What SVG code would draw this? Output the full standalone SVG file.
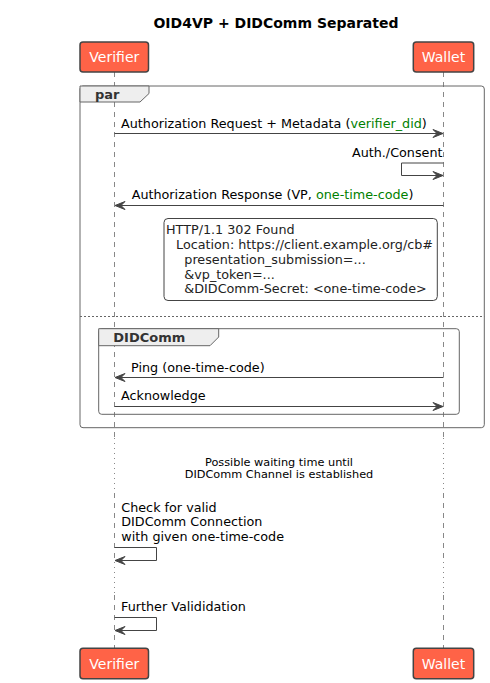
<svg xmlns="http://www.w3.org/2000/svg" width="490" height="683" viewBox="0 0 490 683">
<style>
text{font-family:"DejaVu Sans","Liberation Sans",sans-serif;}
.title{font-size:14px;font-weight:bold;fill:#000;text-anchor:middle;}
.part rect{fill:#FF6347;stroke:#444;stroke-width:1.5;}
.part text{font-size:14px;fill:#fff;text-anchor:middle;}
.msg{font-size:12.75px;fill:#000;}
.grn{fill:#008000;}
.life{stroke:#888;stroke-width:1;fill:none;}
.dash{stroke-dasharray:5,5;}
.dot{stroke-dasharray:1,4;}
.line{stroke:#444;stroke-width:1;fill:none;}
.head{fill:#444;stroke:#444;stroke-width:1;}
.frame{fill:none;stroke:#666;stroke-width:1;}
.tab{fill:#EEEEEE;stroke:#666;stroke-width:1;}
.glabel{font-size:13px;font-weight:bold;fill:#333;}
.note{fill:#fff;stroke:#444;stroke-width:1;}
.ntext{font-size:12.75px;fill:#222;}
.delay{font-size:11.3px;fill:#000;text-anchor:middle;}
</style>
<rect width="490" height="683" fill="#fff"/>
<text class="title" x="276" y="28">OID4VP + DIDComm Separated</text>

<g id="lifelines">
<path class="life dash" d="M114.5 72 V438 M114.5 493 V557 M114.5 595 V648 M443.5 72 V438 M443.5 493 V557 M443.5 595 V648"/>
<path class="life dot" d="M114.5 438 V493 M114.5 557 V595 M443.5 438 V493 M443.5 557 V595"/>
</g>

<g id="par">
<rect class="frame" x="80" y="86" width="404.3" height="341.7" rx="3"/>
<polygon class="tab" points="80,86 149,86 149,93.5 140,102 80,102"/>
<text class="glabel" x="95" y="99">par</text>
<line x1="80" y1="316.5" x2="484.3" y2="316.5" stroke="#666" stroke-width="1" stroke-dasharray="2,2"/>
</g>

<g id="didcomm">
<rect class="frame" x="98.7" y="328.7" width="360.6" height="85.6" rx="3"/>
<polygon class="tab" points="98.7,328.7 218.7,328.7 218.7,337 210,345.7 98.7,345.7"/>
<text class="glabel" x="113.3" y="341.7">DIDComm</text>
</g>

<g id="note">
<rect class="note" x="164" y="218.5" width="273.3" height="82" rx="4"/>
<text class="ntext" x="166" y="234">HTTP/1.1 302 Found</text>
<text class="ntext" x="176" y="249">Location: https://client.example.org/cb#</text>
<text class="ntext" x="184.3" y="263.7">presentation_submission=...</text>
<text class="ntext" x="184.3" y="278.7">&amp;vp_token=...</text>
<text class="ntext grn" x="184.3" y="293.3">&amp;DIDComm-Secret: &lt;one-time-code&gt;</text>
</g>

<g id="verifier-top" class="part">
<rect x="80" y="42" width="68.5" height="30" rx="3"/>
<text x="114.3" y="62">Verifier</text>
</g>
<g id="wallet-top" class="part">
<rect x="413.3" y="42" width="60.4" height="30" rx="3"/>
<text x="443.5" y="62">Wallet</text>
</g>
<g id="verifier-bottom" class="part">
<rect x="80" y="648.3" width="68.5" height="30.4" rx="3"/>
<text x="114.3" y="668.5">Verifier</text>
</g>
<g id="wallet-bottom" class="part">
<rect x="413.3" y="648.3" width="60.4" height="30.4" rx="3"/>
<text x="443.5" y="668.5">Wallet</text>
</g>

<g id="connectors">
<line class="line" x1="114.5" y1="133.5" x2="441" y2="133.5"/>
<polygon class="head" points="433,129.5 443,133.5 433,137.5 437,133.5"/>
<text class="msg" x="121" y="128">Authorization Request + Metadata (<tspan class="grn">verifier_did</tspan>)</text>

<polyline class="line" points="443.5,163 401.5,163 401.5,175.5 441,175.5"/>
<polygon class="head" points="433,171.5 443,175.5 433,179.5 437,175.5"/>
<text class="msg" x="442.5" y="157" text-anchor="end">Auth./Consent</text>

<line class="line" x1="443.5" y1="205.5" x2="117" y2="205.5"/>
<polygon class="head" points="125,201.5 115,205.5 125,209.5 121,205.5"/>
<text class="msg" x="131.7" y="199">Authorization Response (VP, <tspan class="grn">one-time-code</tspan>)</text>

<line class="line" x1="443.5" y1="377.5" x2="117" y2="377.5"/>
<polygon class="head" points="125,373.5 115,377.5 125,381.5 121,377.5"/>
<text class="msg" x="131" y="371.7">Ping (one-time-code)</text>

<line class="line" x1="114.5" y1="406.5" x2="441" y2="406.5"/>
<polygon class="head" points="433,402.5 443,406.5 433,410.5 437,406.5"/>
<text class="msg" x="121" y="400">Acknowledge</text>

<polyline class="line" points="114.5,547.5 156.5,547.5 156.5,560.5 117,560.5"/>
<polygon class="head" points="125,556.5 115,560.5 125,564.5 121,560.5"/>
<text class="msg" x="121.3" y="511.7">Check for valid</text>
<text class="msg" x="121.3" y="526">DIDComm Connection</text>
<text class="msg" x="121.3" y="540.7">with given one-time-code</text>

<polyline class="line" points="114.5,617.5 156.5,617.5 156.5,630.5 117,630.5"/>
<polygon class="head" points="125,626.5 115,630.5 125,634.5 121,630.5"/>
<text class="msg" x="121" y="610.7">Further Valididation</text>
</g>

<g id="delay">
<text class="delay" x="279" y="465.5">Possible waiting time until</text>
<text class="delay" x="279" y="478">DIDComm Channel is established</text>
</g>
</svg>
